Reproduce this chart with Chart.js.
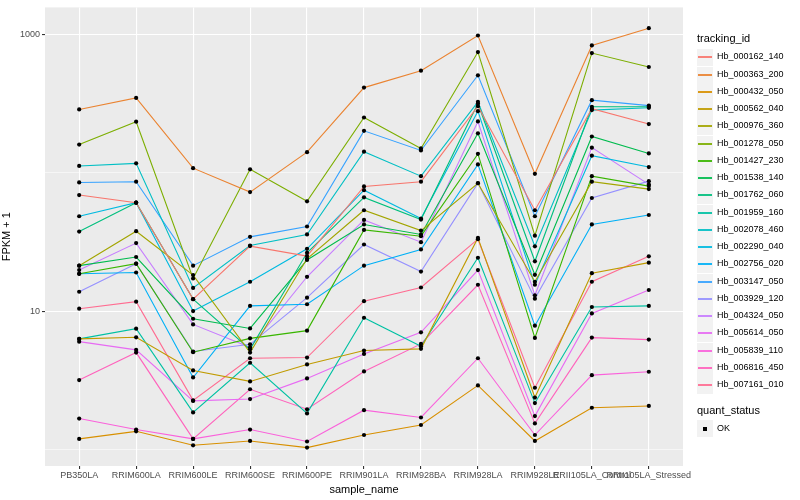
<!DOCTYPE html>
<html>
<head>
<meta charset="utf-8">
<script src="https://cdn.jsdelivr.net/npm/chart.js@4.4.1/dist/chart.umd.min.js"></script>
<style>
  body { margin: 0; background: #ffffff; font-family: "Liberation Sans", Arial, sans-serif; }
  #wrap { position: relative; width: 800px; height: 500px; overflow: hidden; }
  #chart { position: absolute; left: 0; top: 0; }
  .lg { position: absolute; white-space: nowrap; }
</style>
</head>
<body>
<div id="wrap">
  <canvas id="chart" width="800" height="500"></canvas>
  <div id="legend"></div>
</div>
<script>
// --- data (FPKM + 1) ---
const sampleNames = ['PB350LA', 'RRIM600LA', 'RRIM600LE', 'RRIM600SE', 'RRIM600PE', 'RRIM901LA',
                     'RRIM928BA', 'RRIM928LA', 'RRIM928LE', 'RRII105LA_Control', 'RRII105LA_Stressed'];

const trackingIds = ['Hb_000162_140', 'Hb_000363_200', 'Hb_000432_050', 'Hb_000562_040', 'Hb_000976_360',
                     'Hb_001278_050', 'Hb_001427_230', 'Hb_001538_140', 'Hb_001762_060', 'Hb_001959_160',
                     'Hb_002078_460', 'Hb_002290_040', 'Hb_002756_020', 'Hb_003147_050', 'Hb_003929_120',
                     'Hb_004324_050', 'Hb_005614_050', 'Hb_005839_110', 'Hb_006816_450', 'Hb_007161_010'];

const trackColors = ['#F8766D', '#EA8331', '#D89000', '#C09B00', '#A3A500', '#7CAE00', '#39B600', '#00BB4E',
                     '#00BF7D', '#00C1A3', '#00BFC4', '#00BAE0', '#00B0F6', '#35A2FF', '#9590FF', '#C77CFF',
                     '#E76BF3', '#FA62DB', '#FF62BC', '#FF6C91'];

const hb000162 = [69.0, 60.8, 12.2, 29.5, 25.0, 79.7, 86.2, 303, 53.6, 291, 225];
const hb000363 = [287, 348, 108, 72.5, 141, 413, 547, 983, 98.3, 833, 1110];
const hb000432 = [1.19, 1.35, 1.07, 1.15, 1.03, 1.27, 1.50, 2.90, 1.15, 2.00, 2.06];
const hb000562 = [6.29, 6.46, 3.72, 3.10, 4.11, 5.18, 5.33, 33.8, 2.37, 18.8, 22.4];
const hb000976 = [21.3, 37.8, 18.2, 5.01, 23.9, 53.6, 38.2, 84.0, 16.3, 86.2, 76.2];
const hb001278 = [160, 234, 17.2, 106, 62.2, 251, 150, 746, 35.1, 734, 582];
const hb001427 = [18.6, 22.0, 5.04, 6.35, 7.22, 38.6, 34.8, 137, 6.39, 94.5, 80.1];
const hb001538 = [21.3, 24.6, 8.80, 7.49, 23.4, 42.3, 35.8, 193, 18.3, 183, 138];
const hb001762 = [37.6, 60.8, 12.2, 5.29, 26.4, 66.4, 45.9, 317, 22.9, 300, 300];
const hb001959 = [6.29, 7.46, 1.85, 4.23, 1.82, 8.95, 5.56, 24.3, 2.16, 10.7, 10.9];
const hb002078 = [112, 117, 14.7, 29.8, 35.8, 142, 94.5, 326, 29.4, 284, 295];
const hb002290 = [48.5, 60.8, 10.0, 16.3, 28.2, 74.9, 46.7, 279, 15.5, 133, 110];
const hb002756 = [18.6, 19.0, 3.31, 10.9, 11.2, 21.3, 27.9, 115, 7.84, 42.3, 49.5];
const hb003147 = [85.1, 86.2, 21.3, 34.4, 40.9, 201, 145, 507, 48.5, 335, 306];
const hb003929 = [13.8, 22.0, 5.10, 5.75, 12.5, 30.3, 19.3, 84.2, 12.3, 65.7, 87.0];
const hb004324 = [19.8, 31.0, 8.01, 5.47, 17.7, 45.6, 31.5, 235, 13.0, 152, 82.4];
const hb005614 = [6.01, 5.24, 2.24, 2.31, 3.26, 4.90, 7.02, 19.8, 1.74, 9.61, 14.2];
const hb005839 = [1.67, 1.39, 1.19, 1.39, 1.14, 1.92, 1.70, 4.56, 1.27, 3.44, 3.64];
const hb006816 = [3.17, 5.01, 1.19, 2.72, 1.95, 3.66, 5.79, 15.5, 1.54, 6.43, 6.22];
const hb007161 = [10.4, 11.7, 2.26, 4.56, 4.61, 11.8, 14.8, 33.1, 2.79, 16.3, 24.9];

const seriesValues = [hb000162, hb000363, hb000432, hb000562, hb000976, hb001278, hb001427, hb001538,
                      hb001762, hb001959, hb002078, hb002290, hb002756, hb003147, hb003929, hb004324,
                      hb005614, hb005839, hb006816, hb007161];

const yGridValues = [1, 10, 100, 1000];
const yLabelValues = [10, 1000];

// --- chart ---
Chart.defaults.font.family = '"Liberation Sans", Arial, sans-serif';

const toPoints = vals => vals.map((v, i) => ({ x: i, y: v }));

const lineSets = seriesValues.map((vals, k) => ({
    label: trackingIds[k],
    data: toPoints(vals),
    borderColor: trackColors[k],
    borderWidth: 1.1,
    pointRadius: 0,
    tension: 0,
    order: 1
}));

// black dots on top of every line (quant_status = OK)
const dotSets = seriesValues.map((vals, k) => ({
    label: trackingIds[k] + ' OK',
    data: toPoints(vals),
    showLine: false,
    pointRadius: 2.1,
    pointBackgroundColor: '#000000',
    pointBorderWidth: 0,
    order: 0
}));

const panelBg = {
    id: 'panelBg',
    beforeDraw(chart) {
        const { ctx, chartArea: a } = chart;
        ctx.save();
        ctx.fillStyle = '#EBEBEB';
        ctx.fillRect(a.left, a.top, a.right - a.left, a.bottom - a.top);
        ctx.restore();
    }
};

new Chart(document.getElementById('chart').getContext('2d'), {
    type: 'line',
    data: { datasets: lineSets.concat(dotSets) },
    options: {
        responsive: false,
        animation: false,
        layout: { padding: { left: 0, right: 117, top: 5, bottom: 0 } },
        plugins: { legend: { display: false }, tooltip: { enabled: false } },
        scales: {
            x: {
                type: 'linear',
                min: -0.6,
                max: 10.6,
                afterBuildTicks: s => { s.ticks = sampleNames.map((_, i) => ({ value: i })); },
                afterFit: s => { s.height = 34; },
                ticks: {
                    autoSkip: false, maxRotation: 0, minRotation: 0, padding: 1,
                    color: '#4D4D4D', font: { size: 9 },
                    callback: v => sampleNames[v]
                },
                grid: { color: '#FFFFFF', lineWidth: 1.1, tickLength: 3, tickColor: '#333333' },
                border: { display: false },
                title: { display: true, text: 'sample_name', color: '#000000', font: { size: 11 }, padding: { top: 0, bottom: 3 } }
            },
            y: {
                type: 'logarithmic',
                min: 0.758,
                max: 1570,
                afterBuildTicks: s => { s.ticks = yGridValues.map(v => ({ value: v })); },
                afterFit: s => { s.width = 45; },
                ticks: {
                    color: '#4D4D4D', font: { size: 9 }, padding: 2,
                    callback: v => yLabelValues.includes(v) ? String(v) : ''
                },
                grid: {
                    color: '#FFFFFF',
                    lineWidth: c => yLabelValues.includes(c.tick.value) ? 1.1 : 0.55,
                    tickLength: 3,
                    tickColor: c => yLabelValues.includes(c.tick.value) ? '#333333' : 'rgba(0,0,0,0)'
                },
                border: { display: false },
                title: { display: true, text: 'FPKM + 1', color: '#000000', font: { size: 11 }, padding: { top: 0, bottom: 4 } }
            }
        }
    },
    plugins: [panelBg]
});

// --- legend (ggplot style, right side) ---
const legend = document.getElementById('legend');
function addDiv(style, text) {
    const d = document.createElement('div');
    d.className = 'lg';
    Object.assign(d.style, style);
    if (text) d.textContent = text;
    legend.appendChild(d);
    return d;
}
addDiv({ left: '697px', top: '32px', fontSize: '11px', color: '#000' }, 'tracking_id');
trackingIds.forEach((id, k) => {
    const cy = Math.round(57.3 + k * 17.26);
    addDiv({ left: '697px', top: (cy - 8) + 'px', width: '16px', height: '17px', background: '#F2F2F2' });
    addDiv({ left: '698px', top: (cy - 1) + 'px', width: '14px', height: '2px', background: trackColors[k], opacity: '0.9' });
    addDiv({ left: '717px', top: (cy - 6) + 'px', fontSize: '9px', lineHeight: '11px', color: '#000' }, id);
});
addDiv({ left: '697px', top: '404px', fontSize: '11px', color: '#000' }, 'quant_status');
addDiv({ left: '697px', top: '420px', width: '16px', height: '17px', background: '#F2F2F2' });
addDiv({ left: '703px', top: '427px', width: '4px', height: '4px', background: '#000' });
addDiv({ left: '717px', top: '423px', fontSize: '9px', lineHeight: '11px', color: '#000' }, 'OK');
</script>
</body>
</html>
